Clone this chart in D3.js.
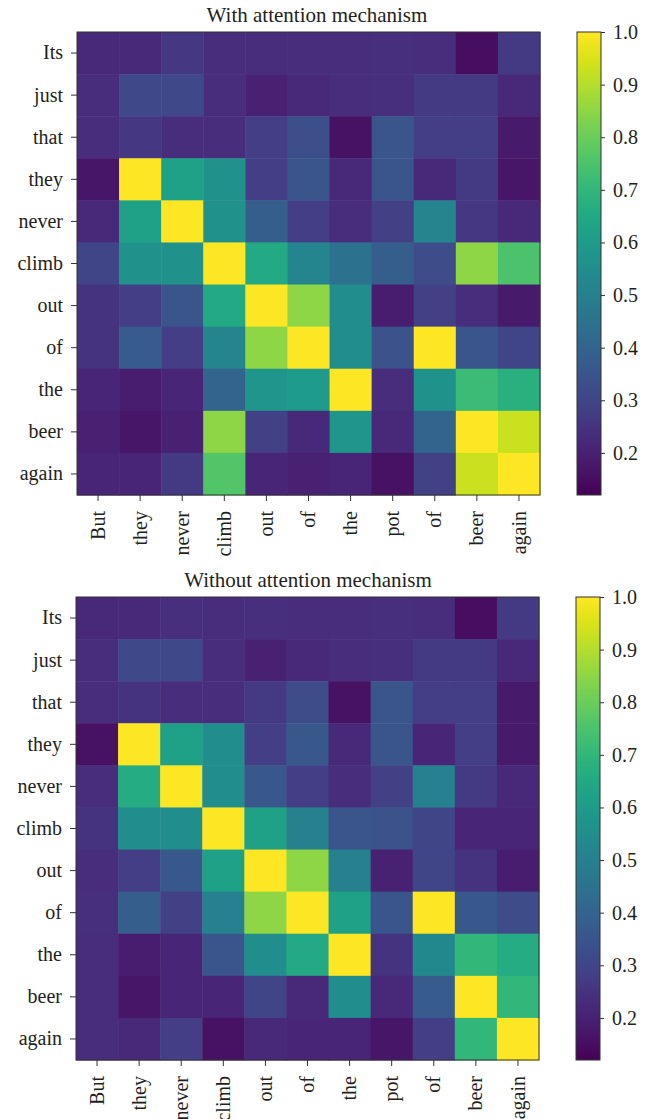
<!DOCTYPE html>
<html>
<head>
<meta charset="utf-8">
<script src="https://cdn.jsdelivr.net/npm/d3@7"></script>
<style>
  body { margin: 0; background: #fff; }
  svg text { font-family: "Liberation Serif", "DejaVu Serif", serif; fill: #231f20; }
</style>
</head>
<body>
<svg id="chart" width="659" height="1119"></svg>
<script>
// words on each axis (target sentence rows, source sentence columns)
const rowWords = ["Its", "just", "that", "they", "never", "climb", "out", "of", "the", "beer", "again"];
const colWords = ["But", "they", "never", "climb", "out", "of", "the", "pot", "of", "beer", "again"];

// attention weights, one row per target word
const withAttention = [
  [0.22, 0.22, 0.26, 0.23, 0.23, 0.23, 0.23, 0.24, 0.23, 0.15, 0.27],
  [0.23, 0.31, 0.31, 0.23, 0.20, 0.22, 0.23, 0.24, 0.27, 0.27, 0.22],
  [0.23, 0.26, 0.23, 0.23, 0.28, 0.33, 0.16, 0.35, 0.28, 0.28, 0.18],
  [0.17, 1.00, 0.62, 0.56, 0.28, 0.35, 0.22, 0.35, 0.22, 0.27, 0.17],
  [0.22, 0.62, 1.00, 0.56, 0.38, 0.28, 0.23, 0.29, 0.52, 0.26, 0.22],
  [0.30, 0.56, 0.56, 1.00, 0.65, 0.52, 0.45, 0.38, 0.32, 0.85, 0.75],
  [0.25, 0.28, 0.35, 0.65, 1.00, 0.85, 0.55, 0.19, 0.29, 0.23, 0.18],
  [0.25, 0.37, 0.28, 0.52, 0.85, 1.00, 0.55, 0.34, 1.00, 0.35, 0.30],
  [0.21, 0.19, 0.21, 0.40, 0.58, 0.60, 1.00, 0.23, 0.57, 0.72, 0.68],
  [0.20, 0.17, 0.20, 0.85, 0.29, 0.22, 0.58, 0.22, 0.40, 1.00, 0.93],
  [0.21, 0.21, 0.27, 0.76, 0.21, 0.20, 0.21, 0.16, 0.29, 0.93, 1.00]
];

const withoutAttention = [
  [0.22, 0.22, 0.24, 0.23, 0.24, 0.23, 0.23, 0.24, 0.23, 0.15, 0.27],
  [0.23, 0.31, 0.31, 0.23, 0.20, 0.22, 0.23, 0.24, 0.27, 0.27, 0.22],
  [0.23, 0.25, 0.23, 0.23, 0.27, 0.32, 0.16, 0.35, 0.28, 0.28, 0.18],
  [0.16, 1.00, 0.62, 0.55, 0.28, 0.36, 0.22, 0.35, 0.21, 0.28, 0.18],
  [0.23, 0.66, 1.00, 0.55, 0.36, 0.28, 0.23, 0.29, 0.50, 0.27, 0.22],
  [0.25, 0.55, 0.55, 1.00, 0.62, 0.50, 0.35, 0.34, 0.30, 0.21, 0.21],
  [0.23, 0.28, 0.36, 0.62, 1.00, 0.85, 0.50, 0.20, 0.30, 0.25, 0.19],
  [0.24, 0.38, 0.29, 0.50, 0.85, 1.00, 0.62, 0.35, 1.00, 0.36, 0.32],
  [0.23, 0.19, 0.21, 0.35, 0.55, 0.65, 1.00, 0.25, 0.53, 0.70, 0.66],
  [0.23, 0.17, 0.21, 0.21, 0.30, 0.22, 0.55, 0.22, 0.37, 1.00, 0.70],
  [0.23, 0.22, 0.28, 0.16, 0.22, 0.21, 0.21, 0.17, 0.28, 0.70, 1.00]
];

const colorbarTicks = [0.2, 0.3, 0.4, 0.5, 0.6, 0.7, 0.8, 0.9, 1.0];
const colorMin = 0.12, colorMax = 1.0;

const svg = d3.select("#chart");
const color = d3.scaleSequential(d3.interpolateViridis).domain([colorMin, colorMax]);

// shared gradient for both colour bars
const grad = svg.append("defs").append("linearGradient")
  .attr("id", "viridisGrad").attr("x1", 0).attr("y1", 1).attr("x2", 0).attr("y2", 0);
d3.range(0, 1.0001, 0.02).forEach(t => {
  grad.append("stop").attr("offset", t).attr("stop-color", d3.interpolateViridis(t));
});

function drawPanel(title, matrix, left, top, titleX) {
  const size = 463;
  const idx = d3.range(colWords.length);
  const x = d3.scaleBand().domain(idx).range([0, size]);
  const y = d3.scaleBand().domain(idx).range([0, size]);

  const g = svg.append("g").attr("transform", `translate(${left},${top})`);

  const cells = [];
  matrix.forEach((row, r) => row.forEach((v, c) => cells.push({ r, c, v })));

  g.selectAll("rect.cell").data(cells).join("rect")
    .attr("class", "cell")
    .attr("x", d => x(d.c))
    .attr("y", d => y(d.r))
    .attr("width", x.bandwidth() + 0.5)
    .attr("height", y.bandwidth() + 0.5)
    .attr("fill", d => color(d.v));

  g.append("rect").attr("width", size).attr("height", size)
    .attr("fill", "none").attr("stroke", "#333").attr("stroke-width", 1);

  // y axis with row words
  const yAxis = g.append("g")
    .call(d3.axisLeft(y).tickSize(6).tickPadding(8).tickFormat(i => rowWords[i]));
  yAxis.select(".domain").remove();
  yAxis.selectAll("line").attr("stroke", "#333");
  yAxis.selectAll("text").attr("font-size", 20).attr("font-family", "Liberation Serif");

  // x axis with column words, rotated
  const xAxis = g.append("g").attr("transform", `translate(0,${size})`)
    .call(d3.axisBottom(x).tickSize(6).tickFormat(i => colWords[i]));
  xAxis.select(".domain").remove();
  xAxis.selectAll("line").attr("stroke", "#333");
  xAxis.selectAll("text")
    .attr("font-size", 20).attr("font-family", "Liberation Serif")
    .attr("text-anchor", "end")
    .attr("transform", "rotate(-90)")
    .attr("x", -16).attr("y", 0).attr("dy", "0.33em");

  svg.append("text")
    .attr("x", titleX).attr("y", top - 10)
    .attr("text-anchor", "middle")
    .attr("font-size", 21)
    .text(title);

  // colour bar
  const cb = svg.append("g").attr("transform", `translate(${left + 500},${top})`);
  const cbScale = d3.scaleLinear().domain([colorMin, colorMax]).range([size, 0]);
  cb.append("rect").attr("width", 24).attr("height", size)
    .attr("fill", "url(#viridisGrad)").attr("stroke", "#333").attr("stroke-width", 1);
  const cbAxis = cb.append("g").attr("transform", "translate(24,0)")
    .call(d3.axisRight(cbScale).tickValues(colorbarTicks).tickSize(4).tickPadding(8).tickFormat(d3.format(".1f")));
  cbAxis.select(".domain").remove();
  cbAxis.selectAll("line").attr("stroke", "#333");
  cbAxis.selectAll("text").attr("font-size", 20).attr("font-family", "Liberation Serif");
}

drawPanel("With attention mechanism", withAttention, 77, 32, 317);
drawPanel("Without attention mechanism", withoutAttention, 76, 597, 308);
</script>
</body>
</html>
